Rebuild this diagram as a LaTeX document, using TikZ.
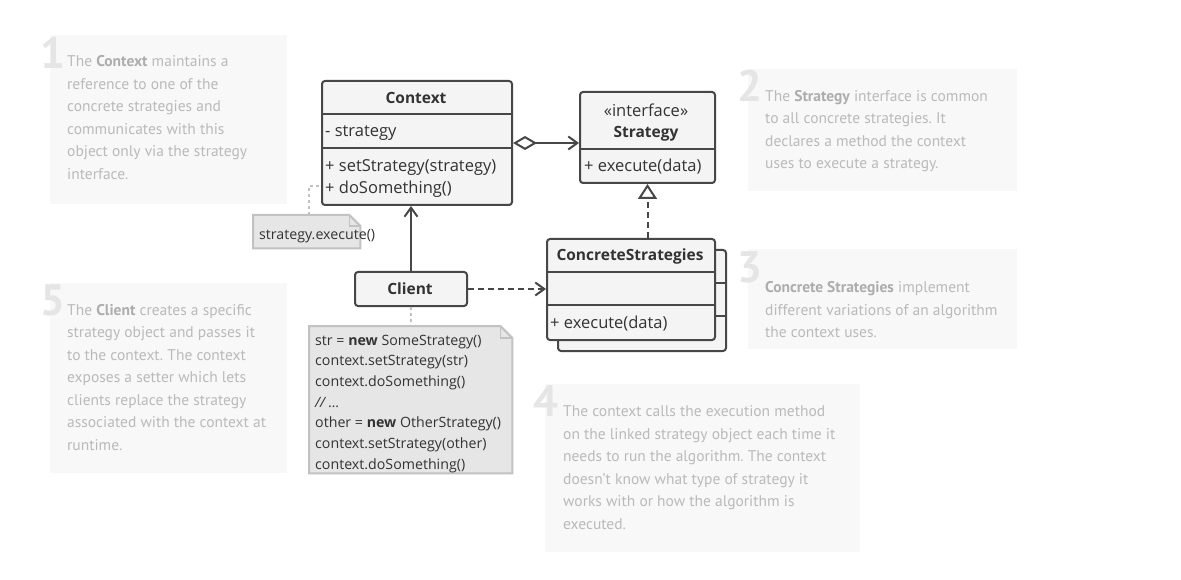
\documentclass[tikz,border=0pt]{standalone}
\usepackage{fontspec}
\setmainfont{Open Sans}
\newfontfamily\cmtfont{PT Sans}
\usetikzlibrary{arrows.meta,calc}
\definecolor{ln}{HTML}{474747}
\definecolor{boxfill}{HTML}{F4F4F4}
\definecolor{notefill}{HTML}{E6E6E6}
\definecolor{noteline}{HTML}{C2C2C2}
\definecolor{cmtbg}{HTML}{F8F8F8}
\definecolor{cmttext}{HTML}{BABABA}
\definecolor{cmtbold}{HTML}{ADADAD}
\definecolor{cmtnum}{HTML}{E5E5E5}
\definecolor{txt}{HTML}{333333}
\newcommand{\cb}[1]{{\color{cmtbold}\bfseries #1}}
\frenchspacing
\begin{document}
\begin{tikzpicture}[x=1pt,y=-1pt,
  umlbox/.style={draw=ln, line width=2pt, fill=boxfill, rounded corners=3pt, inner sep=0, anchor=north west},
  divider/.style={draw=ln, line width=2pt},
  umltext/.style={text=txt, inner sep=0, font=\fontsize{16.5}{19}\selectfont},
  umlbold/.style={umltext, font=\fontsize{15.5}{18}\selectfont\bfseries},
  conn/.style={draw=ln, line width=2pt},
  openhead/.style={-{Straight Barb[length=9pt,width=13pt]}},
  dashedline/.style={dash pattern=on 6pt off 4pt},
  notebox/.style={inner sep=0, anchor=north west},
  noteshape/.style={draw=noteline, fill=notefill, line width=2pt},
  notetext/.style={text=txt, inner sep=0, anchor=base west, font=\fontsize{14.2}{20.7}\selectfont},
  dotconn/.style={draw=noteline, line width=2pt, dash pattern=on 3pt off 3pt},
  cmtbox/.style={fill=cmtbg, inner sep=0, anchor=north west},
  cmtnumber/.style={text=cmtnum, inner sep=0, anchor=base west, font=\cmtfont\fontsize{44}{44}\selectfont\bfseries},
  cmttxt/.style={text=cmttext, inner sep=0, anchor=base west, font=\cmtfont\fontsize{15.5}{22.5}\selectfont},
]
\useasboundingbox[fill=white] (0,0) rectangle (1181,580);

% ---------- comment boxes ----------
\node[cmtbox, minimum width=237, minimum height=169] (c1box) at (50,35) {};
\node[cmtnumber] (c1num) at (40,69) {1};
\node[cmttxt] (c1) at (67,67) {\parbox[t]{220pt}{\raggedright The \cb{Context} maintains a\\reference to one of the\\concrete strategies and\\communicates with this\\object only via the strategy\\interface.}};

\node[cmtbox, minimum width=269, minimum height=122] (c2box) at (748,69) {};
\node[cmtnumber] (c2num) at (737,102) {2};
\node[cmttxt] (c2) at (765,101.5) {\parbox[t]{260pt}{\raggedright The \cb{Strategy} interface is common\\to all concrete strategies. It\\declares a method the context\\uses to execute a strategy.}};

\node[cmtbox, minimum width=269, minimum height=100] (c3box) at (748,249) {};
\node[cmtnumber] (c3num) at (737,282) {3};
\node[cmttxt] (c3) at (765,281.5) {\parbox[t]{260pt}{\raggedright \cb{Concrete Strategies} implement\\different variations of an algorithm\\the context uses.}};

\node[cmtbox, minimum width=315, minimum height=168] (c4box) at (545,384) {};
\node[cmtnumber] (c4num) at (533,416) {4};
\node[cmttxt] (c4) at (563,416.5) {\parbox[t]{300pt}{\raggedright The context calls the execution method\\on the linked strategy object each time it\\needs to run the algorithm. The context\\doesn’t know what type of strategy it\\works with or how the algorithm is\\executed.}};

\node[cmtbox, minimum width=237, minimum height=190] (c5box) at (50,283) {};
\node[cmtnumber] (c5num) at (40,315) {5};
\node[cmttxt] (c5) at (67,315) {\parbox[t]{220pt}{\raggedright The \cb{Client} creates a specific\\strategy object and passes it\\to the context. The context\\exposes a setter which lets\\clients replace the strategy\\associated with the context at\\runtime.}};

% ---------- Context ----------
\node[umlbox, minimum width=190, minimum height=124] (ctx) at (321,80) {};
\draw[divider] (321,114) -- (511,114);
\draw[divider] (321,148) -- (511,148);
\node[umlbold] (ctxname) at (416,97.5) {Context};
\node[umltext, anchor=west] (ctxattr) at (325,133) {- strategy};
\node[umltext, anchor=west] (ctxm1) at (325,168) {+ setStrategy(strategy)};
\node[umltext, anchor=west] (ctxm2) at (325,189) {+ doSomething()};

% ---------- Strategy ----------
\node[umlbox, minimum width=135, minimum height=91] (strat) at (579,91) {};
\draw[divider] (579,149) -- (714,149);
\node[umltext] (stratst) at (646,110) {«interface»};
\node[umlbold] (stratname) at (646,133.5) {Strategy};
\node[umltext, anchor=west] (stratm) at (584,167) {+ execute(data)};

% ---------- ConcreteStrategies ----------
\node[umlbox, minimum width=168, minimum height=101] (csback) at (557,249) {};
\draw[divider] (714,283) -- (725,283);
\draw[divider] (714,316) -- (725,316);
\node[umlbox, minimum width=168, minimum height=101] (cs) at (546,238) {};
\draw[divider] (546,272) -- (714,272);
\draw[divider] (546,305) -- (714,305);
\node[umlbold] (csname) at (630,256) {ConcreteStrategies};
\node[umltext, anchor=west] (csm) at (550,323.5) {+ execute(data)};

% ---------- Client ----------
\node[umlbox, minimum width=112, minimum height=34] (client) at (354,271) {};
\node[umlbold] (clientname) at (410,289) {Client};

% ---------- notes ----------
\node[notebox, minimum width=107, minimum height=33] (n1) at (253,215) {};
\draw[noteshape] (n1.north west) -- ($(n1.north east)+(-11,0)$) -- ($(n1.north east)+(0,11)$) -- (n1.south east) -- (n1.south west) -- cycle;
\draw[draw=noteline, line width=1.5pt] ($(n1.north east)+(-11,0)$) |- ($(n1.north east)+(0,11)$);
\node[notetext] (n1text) at (259,240) {strategy.execute()};

\node[notebox, minimum width=203, minimum height=147] (code) at (309,326) {};
\draw[noteshape] (code.north west) -- ($(code.north east)+(-12,0)$) -- ($(code.north east)+(0,12)$) -- (code.south east) -- (code.south west) -- cycle;
\draw[draw=noteline, line width=1.5pt] ($(code.north east)+(-12,0)$) |- ($(code.north east)+(0,12)$);
\node[notetext] (codetext) at (315,345) {\parbox[t]{200pt}{\raggedright str = \textbf{new} SomeStrategy()\\context.setStrategy(str)\\context.doSomething()\\\textit{// …}\\other = \textbf{new} OtherStrategy()\\context.setStrategy(other)\\context.doSomething()}};

% ---------- connectors ----------
\draw[conn, {Diamond[open,length=24pt,width=14pt]}-{Straight Barb[length=9pt,width=13pt]}] (ctx.east) -- (strat.west |- ctx.east);
\draw[conn, dashedline, -{Triangle[open,length=15pt,width=19pt,fill=white]}] (cs.north -| strat.south) -- (strat.south);
\draw[conn, openhead] (client.north) -- (client.north |- ctx.south);
\draw[conn, dashedline, openhead] (client.east) -- (cs.west |- client.east);
\coordinate (ctxdo) at (321,186);
\draw[dotconn] (n1.north -| 309,0) |- (ctxdo);
\draw[dotconn] (client.south) -- (code.north);
\end{tikzpicture}
\end{document}
